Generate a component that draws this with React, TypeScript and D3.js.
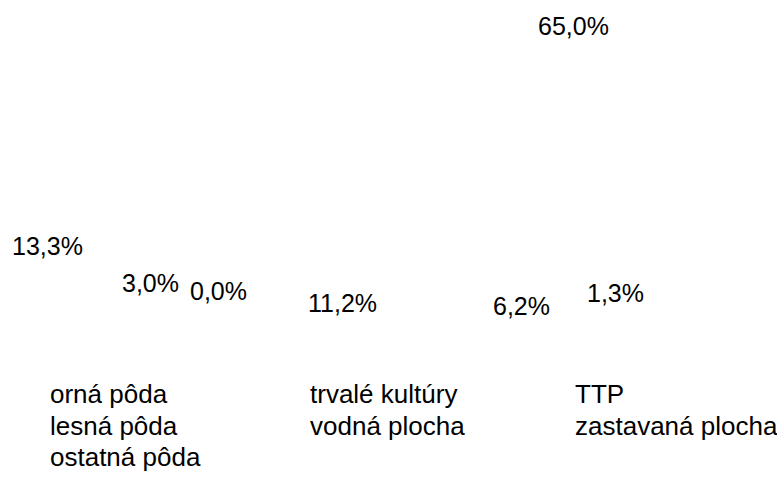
import React from "react";
import { pie, arc, formatLocale, PieArcDatum } from "d3";

// land use shares (%), legend order
const categories = [
  "orná pôda",
  "trvalé kultúry",
  "TTP",
  "lesná pôda",
  "vodná plocha",
  "zastavaná plocha",
  "ostatná pôda"
];
const shares = [13.3, 0.0, 11.2, 65.0, 1.3, 3.0, 6.2];

// where each value label ended up in the picture (left edge, baseline)
const labelAnchors: [number, number][] = [
  [12, 255],
  [190, 300],
  [308, 312],
  [538, 35],
  [587, 302],
  [122, 292],
  [493, 315]
];

const W = 777;
const H = 484;
const FONT = "'Liberation Sans', Arial, sans-serif";

const skFormat = formatLocale({
  decimal: ",",
  thousands: " ",
  grouping: [3],
  currency: ["", " €"]
}).format(".1f");

type Row = { name: string; value: number; anchor: [number, number] };

export default function App() {
  const rows: Row[] = categories.map((name, i) => ({
    name,
    value: shares[i],
    anchor: labelAnchors[i]
  }));

  const pieGen = pie<Row>().value((d) => d.value).sort(null);
  const arcs = pieGen(rows);
  const arcGen = arc<PieArcDatum<Row>>().innerRadius(0).outerRadius(110);

  // legend: 3 columns, row-major
  const legendCols = [50, 310, 575];
  const legendTop = 403;
  const legendRowH = 31.5;

  return (
    <div style={{ position: "fixed", left: 0, top: 0 }}>
      <svg width={W} height={H} style={{ display: "block", background: "#fff" }}>
        {/* slices are white, as in the source */}
        <g transform="translate(330,170)">
          {arcs.map((a, i) => (
            <path key={i} d={arcGen(a) || ""} fill="#ffffff" />
          ))}
        </g>
        <g fontFamily={FONT} fontSize={25} fill="#000">
          {arcs.map((a, i) => (
            <text key={i} x={a.data.anchor[0]} y={a.data.anchor[1]}>
              {skFormat(a.data.value)}%
            </text>
          ))}
        </g>
        <g fontFamily={FONT} fontSize={26} fill="#000">
          {categories.map((c, i) => {
            const col = i % 3;
            const row = Math.floor(i / 3);
            const x = legendCols[col];
            const y = legendTop + row * legendRowH;
            return (
              <g key={c}>
                <rect x={x - 26} y={y - 17} width={16} height={16} fill="#ffffff" />
                <text x={x} y={y}>
                  {c}
                </text>
              </g>
            );
          })}
        </g>
      </svg>
    </div>
  );
}
